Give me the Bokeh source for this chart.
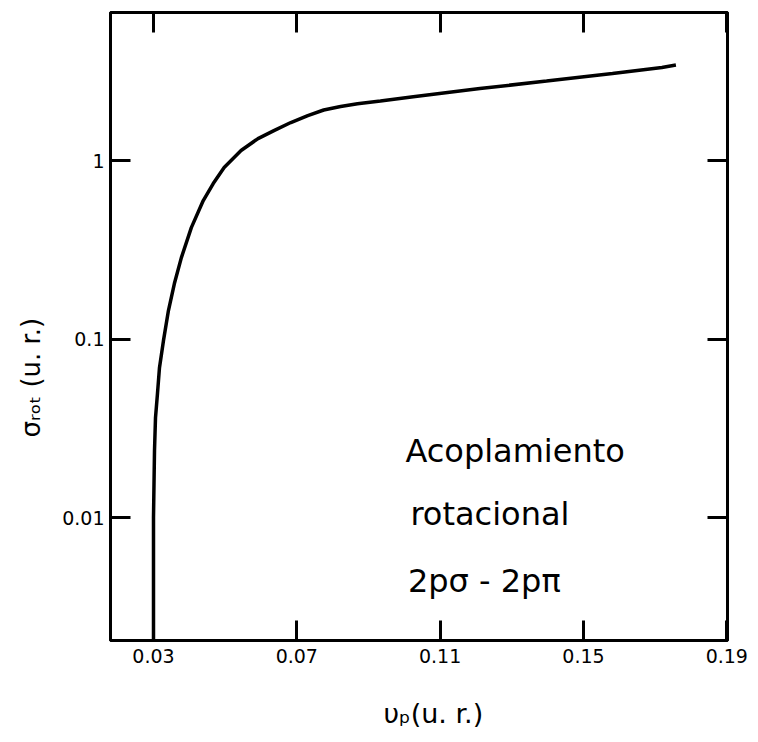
from bokeh.plotting import figure
from bokeh.models import FixedTicker, LinearAxis, LogAxis, Label, Title
from bokeh.embed import file_html
from bokeh.resources import INLINE

# data
vp = [0.0300, 0.0300, 0.03028, 0.03056, 0.03111, 0.03167, 0.03278, 0.03417,
      0.03583, 0.03778, 0.04056, 0.04389, 0.04667, 0.04972, 0.05444, 0.05917,
      0.06361, 0.06833, 0.07306, 0.0775, 0.08222, 0.08694, 0.09333, 0.1025,
      0.1211, 0.1397, 0.1581, 0.1719, 0.1758]
sigma_rot = [0.00205, 0.0100, 0.0237, 0.0363, 0.0495, 0.0692, 0.098, 0.1445,
             0.2047, 0.286, 0.421, 0.597, 0.743, 0.914, 1.138, 1.328,
             1.472, 1.633, 1.786, 1.919, 2.007, 2.078, 2.158, 2.280,
             2.532, 2.789, 3.072, 3.319, 3.428]

x_ticks = [0.03, 0.07, 0.11, 0.15, 0.19]
x_tick_labels = ["0.03", "0.07", "0.11", "0.15", "0.19"]
y_ticks = [0.01, 0.1, 1]
y_tick_labels = ["0.01", "0.1", "1"]

x_title = "υₚ(u. r.)"
y_title = "σᵣₒₜ (u. r.)"

annotation_lines = ["Acoplamiento", "rotacional", "2pσ - 2pπ"]
annotation_x = [0.1003, 0.1017, 0.101]
annotation_y = [0.0237, 0.0105, 0.00444]

FONT = "DejaVu Sans"

p = figure(width=758, height=742, frame_width=617, frame_height=628,
           x_range=(0.018, 0.1902), y_range=(0.00205, 6.75),
           y_axis_type="log", output_backend="svg", toolbar_location=None,
           min_border_left=109, min_border_top=12, min_border_right=32,
           min_border_bottom=102)
p.xgrid.visible = False
p.ygrid.visible = False
p.background_fill_color = "white"
p.border_fill_color = "white"
p.outline_line_color = "black"
p.outline_line_width = 3

p.line(vp, sigma_rot, line_color="black", line_width=3.5)

def style(ax, labels=True):
    ax.axis_line_width = 3
    ax.axis_line_color = "black"
    ax.major_tick_in = 20
    ax.major_tick_out = 0
    ax.major_tick_line_width = 3
    ax.major_tick_line_color = "black"
    ax.minor_tick_line_color = None
    ax.major_label_text_font = FONT
    ax.major_label_text_font_size = "19px"
    ax.major_label_text_color = "black"
    if not labels:
        ax.major_label_text_alpha = 0

xa = p.xaxis[0]
xa.ticker = FixedTicker(ticks=x_ticks)
xa.major_label_overrides = {t: l for t, l in zip(x_ticks, x_tick_labels)}
style(xa)
xa.major_label_standoff = 8

ya = p.yaxis[0]
ya.ticker = FixedTicker(ticks=y_ticks)
ya.major_label_overrides = {t: l for t, l in zip(y_ticks, y_tick_labels)}
style(ya)
ya.major_label_standoff = 6

top = LinearAxis(ticker=FixedTicker(ticks=x_ticks))
style(top, labels=False)
p.add_layout(top, "above")
right = LogAxis(ticker=FixedTicker(ticks=y_ticks))
style(right, labels=False)
p.add_layout(right, "right")

# axis titles as side-panel titles
p.add_layout(Title(text=x_title, text_font=FONT, text_font_size="27px",
                   text_font_style="normal", text_color="black",
                   align="left", offset=273, standoff=60), "below")
p.add_layout(Title(text=y_title, text_font=FONT, text_font_size="26px",
                   text_font_style="normal", text_color="black",
                   align="left", offset=203, standoff=27), "left")

for txt, x, y in zip(annotation_lines, annotation_x, annotation_y):
    p.add_layout(Label(x=x, y=y, text=txt, text_font=FONT, text_font_size="32px",
                       text_baseline="middle", text_color="black"))

open("out.html", "w").write(file_html(p, INLINE))
